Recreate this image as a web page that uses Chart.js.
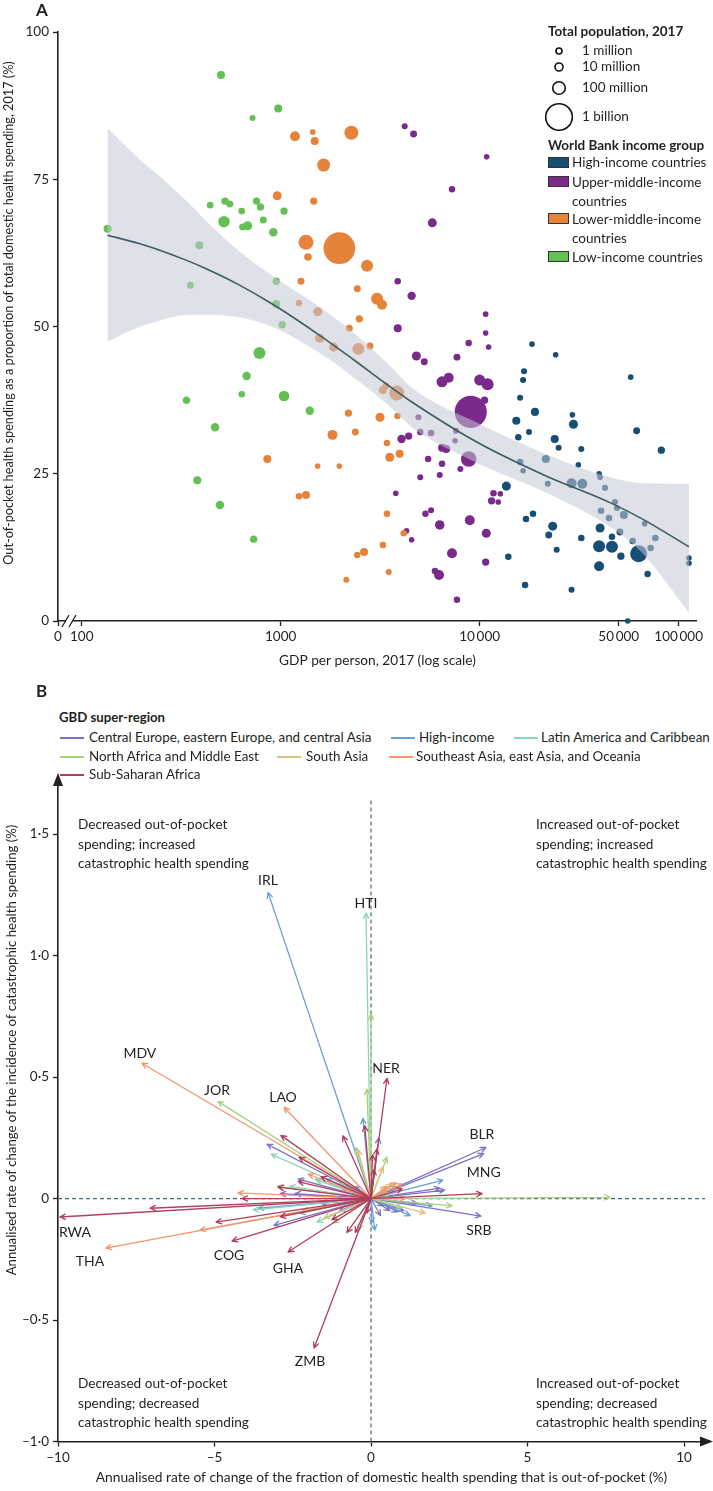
<!DOCTYPE html>
<html>
<head>
<meta charset="utf-8">
<script src="https://cdn.jsdelivr.net/npm/chart.js@4.4.0/dist/chart.umd.min.js"></script>
<style>
  body { margin: 0; background: #fff; }
  #page { position: relative; width: 713px; height: 1491px; overflow: hidden; font-family: Lato, sans-serif; color: #231f20; }
  canvas { position: absolute; left: 0; }
  #chartA { top: 0; }
  #chartB { top: 760px; }
  .t { position: absolute; white-space: nowrap; line-height: 1; transform: translateY(-50%); }
  .b { font-weight: bold; }
  .rot { position: absolute; white-space: nowrap; line-height: 1; transform: translate(-50%, -50%) rotate(-90deg); }
  .q { position: absolute; white-space: nowrap; font-size: 13.6px; line-height: 19.5px; }
  .sq { position: absolute; left: 548px; width: 19px; height: 9px; border: 1.2px solid #333; }
  .ln { position: absolute; height: 2px; width: 24px; }
</style>
</head>
<body>
<div id="page">
  <canvas id="chartA" width="713" height="672"></canvas>
  <canvas id="chartB" width="713" height="731"></canvas>

  <!-- panel A text -->
  <div class="t b" style="left:36px;top:9px;font-size:17px">A</div>
  <div class="rot" style="left:8px;top:313px;font-size:12.7px">Out-of-pocket health spending as a proportion of total domestic health spending, 2017 (%)</div>

  <div class="t b" style="left:548px;top:32px;font-size:13.5px">Total population, 2017</div>
  <svg style="position:absolute;left:540px;top:40px" width="40" height="100">
    <g fill="none" stroke="#111" stroke-width="1.6">
      <circle cx="19" cy="11" r="3"></circle>
      <circle cx="19" cy="27" r="4"></circle>
      <circle cx="19" cy="48" r="6.3"></circle>
      <circle cx="19" cy="77" r="13.3"></circle>
    </g>
  </svg>
  <div class="t" style="left:582px;top:51px;font-size:13.5px">1 million</div>
  <div class="t" style="left:582px;top:67px;font-size:13.5px">10 million</div>
  <div class="t" style="left:582px;top:88px;font-size:13.5px">100 million</div>
  <div class="t" style="left:582px;top:117px;font-size:13.5px">1 billion</div>

  <div class="t b" style="left:548px;top:146px;font-size:13.5px">World Bank income group</div>
  <div class="sq" style="top:157px;background:#174e73"></div>
  <div class="sq" style="top:176px;background:#7a2a8b"></div>
  <div class="sq" style="top:213px;background:#e5833a"></div>
  <div class="sq" style="top:251px;background:#64bf55"></div>
  <div class="t" style="left:572px;top:163px;font-size:13.5px">High-income countries</div>
  <div class="t" style="left:572px;top:183px;font-size:13.5px">Upper-middle-income</div>
  <div class="t" style="left:572px;top:202px;font-size:13.5px">countries</div>
  <div class="t" style="left:572px;top:220px;font-size:13.5px">Lower-middle-income</div>
  <div class="t" style="left:572px;top:239px;font-size:13.5px">countries</div>
  <div class="t" style="left:572px;top:258px;font-size:13.5px">Low-income countries</div>

  <!-- panel B text -->
  <div class="t b" style="left:36px;top:690px;font-size:17px">B</div>
  <div class="t b" style="left:59px;top:718px;font-size:13.2px">GBD super-region</div>
  <div id="legendB"></div>
  <div class="rot" style="left:12px;top:1050px;font-size:13.2px">Annualised rate of change of the incidence of catastrophic health spending (%)</div>

  <div class="q" style="left:78px;top:815px">Decreased out-of-pocket<br>spending; increased<br>catastrophic health spending</div>
  <div class="q" style="left:536px;top:815px">Increased out-of-pocket<br>spending; increased<br>catastrophic health spending</div>
  <div class="q" style="left:78px;top:1374px">Decreased out-of-pocket<br>spending; decreased<br>catastrophic health spending</div>
  <div class="q" style="left:536px;top:1374px">Increased out-of-pocket<br>spending; decreased<br>catastrophic health spending</div>
</div>

<script>
// ---------- Panel A data: GDP per person (US$), out-of-pocket share (%), population (millions) ----------
const xTicksA = [100, 1000, 10000, 50000, 100000];
const yTicksA = [0, 25, 50, 75, 100];

const lowGdp = [501, 972, 722, 442, 525, 555, 637, 756, 791, 1040, 519, 644, 682, 818, 918, 135, 390, 352, 950, 950, 1017, 782, 674, 637, 1040, 336, 1400, 468, 381, 495, 731];
const lowOop = [92.7, 87, 85.4, 70.6, 71.3, 70.8, 69.6, 71.3, 70.3, 69.6, 67.8, 66.9, 67.1, 68.1, 66.0, 66.6, 63.8, 57.0, 57.7, 53.8, 50.3, 45.5, 41.6, 38.5, 38.2, 37.5, 35.7, 32.9, 23.9, 19.7, 13.9];
const lowPop = [6, 6, 0.4, 1.3, 3, 2, 1.3, 3, 3, 3, 38, 2, 12, 2, 8, 6, 6, 2, 3, 6, 3, 47, 8, 1, 27, 3, 8, 8, 6, 8, 3];

const lmGdp = [1180, 1449, 1483, 2265, 1644, 961, 1466, 1340, 1972, 1371, 2716, 1265, 2428, 3050, 3230, 1236, 1535, 2485, 2213, 1570, 1845, 2455, 2810, 2190, 3155, 3265, 3380, 3830, 3865, 2372, 3420, 3535, 3960, 3420, 4150, 3265, 2625, 2425, 3490, 1822, 857, 1535, 1972, 1236, 1340, 2138];
const lmOop = [82.3, 83.0, 81.5, 82.9, 77.4, 72.2, 71.3, 64.3, 63.3, 61.8, 60.3, 57.7, 56.4, 54.7, 53.7, 54.0, 52.5, 51.3, 49.7, 48.0, 46.5, 46.2, 46.7, 35.3, 34.6, 39.2, 39.9, 38.7, 34.8, 32.1, 30.2, 27.8, 28.4, 18.2, 14.9, 12.9, 11.7, 11.2, 8.3, 31.6, 27.5, 26.3, 26.3, 21.2, 21.4, 7.0];
const lmPop = [20, 0.1, 6, 88, 66, 12, 3, 115, 1340, 4, 47, 2, 2, 47, 20, 0.8, 12, 3, 2, 12, 12, 47, 2, 3, 12, 6, 2, 115, 1, 2, 1, 12, 6, 1, 1, 1, 6, 1, 0.4, 20, 6, 0.1, 0.1, 1, 6, 0.4];

const umGdp = [4200, 4655, 10840, 7262, 5780, 3874, 4550, 10720, 3874, 10720, 8810, 11090, 4808, 5270, 7690, 6470, 6990, 10000, 10960, 10580, 9020, 4920, 5030, 5700, 7600, 7520, 4050, 4400, 6470, 6790, 8810, 5510, 6470, 8000, 5030, 6300, 3787, 11730, 12700, 11480, 12400, 5340, 5700, 6300, 8920, 10800, 4290, 4550, 7260, 10720, 5960, 6250, 7690];
const umOop = [84.0, 82.7, 78.8, 73.3, 67.6, 57.7, 55.2, 52.1, 49.7, 48.9, 47.2, 46.5, 45.0, 44.0, 44.8, 40.6, 41.3, 40.9, 40.2, 37.5, 35.5, 34.6, 32.1, 31.9, 32.3, 30.6, 30.9, 31.4, 29.4, 29.2, 27.5, 27.5, 26.7, 25.8, 24.4, 24.8, 21.7, 21.7, 21.6, 20.4, 20.2, 18.2, 18.8, 16.3, 17.1, 14.9, 15.3, 13.8, 11.5, 10.0, 8.5, 7.8, 3.6];
const umPop = [0.4, 2, 0.1, 1, 12, 1, 8, 0.1, 6, 0.1, 1, 0.1, 12, 2, 2, 32, 20, 32, 47, 3, 1390, 0.4, 1, 1, 0.4, 0.1, 8, 3, 6, 6, 130, 1, 1, 0.4, 0.4, 0.4, 0.1, 1, 0.1, 3, 0.1, 1, 0.4, 16, 20, 12, 0.1, 0.1, 20, 3, 1, 20, 1];

const highGdp = [18330, 24100, 16720, 16530, 57430, 15970, 18970, 15280, 29260, 29600, 17700, 61500, 15640, 23830, 24940, 32420, 81850, 15970, 21510, 16530, 31330, 39840, 40300, 22000, 28960, 32800, 13620, 42660, 47860, 48970, 53060, 40760, 44650, 18540, 17100, 67440, 23290, 22240, 40300, 50700, 58760, 76400, 32420, 46230, 39840, 46230, 62930, 72270, 24380, 51270, 13930, 112700, 112700, 39840, 69820, 16910, 28960, 55480];
const highOop = [47.0, 45.2, 42.4, 40.9, 41.4, 37.9, 35.5, 34.0, 35.0, 33.4, 32.1, 32.3, 31.2, 30.9, 29.4, 29.2, 29.0, 27.0, 27.5, 25.5, 26.5, 25.0, 24.4, 23.3, 23.4, 23.3, 22.9, 22.6, 20.2, 19.2, 18.0, 18.7, 17.5, 18.2, 17.3, 16.5, 16.1, 14.6, 15.8, 15.1, 13.6, 14.1, 14.1, 14.3, 12.7, 12.6, 11.4, 12.4, 12.1, 11.0, 10.9, 10.7, 9.8, 9.3, 8.0, 6.1, 5.3, 0];
const highPop = [0.1, 0.1, 0.4, 0.4, 0.1, 0.4, 6, 6, 0.1, 12, 0.4, 2, 1, 6, 0.4, 0.4, 3, 1, 6, 0.1, 0.1, 0.1, 0.1, 0.4, 20, 20, 12, 0.4, 0.4, 0.4, 6, 1, 1, 1, 1, 0.1, 12, 2, 12, 2, 1, 1, 1, 1, 47, 47, 180, 1, 0.4, 3, 1, 0.1, 0.1, 20, 1, 1, 0.4, 0.1];

// fitted curve with its uncertainty band
const fitGdp = [134.6, 194, 235, 344, 417, 608, 929, 1570, 2317, 3380, 4600, 9770, 21000, 45200, 65900, 112700];
const fitMid = [65.5, 64.1, 63.2, 61.1, 59.9, 57.2, 53.6, 48.5, 44.4, 40.3, 37.1, 30.3, 24.8, 20.1, 17.3, 12.6];
const fitHigh = [83.7, 78.5, 76.1, 71.0, 68.1, 63.0, 58.4, 53.3, 49.0, 44.0, 39.5, 33.6, 28.5, 24.4, 23.4, 23.3];
const fitLow = [47.4, 49.9, 50.8, 52.0, 52.0, 51.6, 49.8, 45.5, 41.4, 37.0, 32.8, 26.8, 22.0, 16.0, 11.5, 1.4];

// ---------- Panel B data: arrow tips [x change, y change, country code] ----------
const regionNames = ['Central Europe, eastern Europe, and central Asia', 'High-income', 'Latin America and Caribbean',
  'North Africa and Middle East', 'South Asia', 'Southeast Asia, east Asia, and Oceania', 'Sub-Saharan Africa'];
const ceeTips = [[3.67, 0.21, 'BLR'], [3.6, 0.185, 'MNG'], [3.51, -0.072, 'SRB'], [-3.32, 0.224], [-2.33, 0.08], [-2.43, 0.02], [2.36, 0.035], [2.2, 0.043], [0.6, -0.05], [0.85, -0.055], [1.05, -0.05], [1.47, -0.02], [0.25, 0.25], [-1.0, -0.05], [-2.9, 0.02], [0.4, -0.03], [-1.6, -0.02], [0.3, -0.07], [-3.1, -0.11]];
const hiTips = [[-3.29, 1.26, 'IRL'], [-0.26, 0.33], [-1.41, 0.08], [2.3, 0.076], [1.95, -0.03], [0.03, -0.1], [-2.27, -0.06], [0.12, -0.13], [-3.6, -0.04], [0.8, 0.05], [1.25, -0.07], [-0.5, 0.05], [0.5, 0.02]];
const lacTips = [[-0.16, 1.175, 'HTI'], [-3.19, 0.183], [-1.79, 0.08], [-3.77, -0.047], [-1.73, -0.097], [-0.4, -0.13], [-2.6, 0.05], [-1.0, 0.06], [1.0, -0.04], [-1.73, 0.076], [-0.7, 0.03], [0.5, 0.04]];
const nameTips = [[-4.89, 0.40, 'JOR'], [0.0, 0.76], [-0.13, 0.45], [7.64, 0.005], [-0.48, 0.21], [0.51, 0.17], [2.59, -0.03], [-1.2, -0.1], [0.6, 0.02], [-3.0, 0.05], [-2.2, -0.05]];
const saTips = [[-0.42, 0.2], [0.38, 0.13], [0.67, 0.06], [1.73, -0.06], [-1.5, -0.08]];
const seaTips = [[-7.32, 0.557, 'MDV'], [-2.78, 0.376, 'LAO'], [-8.47, -0.204, 'THA'], [-4.25, 0.023], [1.0, 0.06], [0.8, 0.065], [-5.46, -0.13], [-2.0, 0.1], [1.1, 0.0], [-0.9, 0.04], [0.5, 0.05]];
const ssaTips = [[0.51, 0.495, 'NER'], [-9.94, -0.076, 'RWA'], [-4.44, -0.175, 'COG'], [-2.65, -0.22, 'GHA'], [-1.82, -0.615, 'ZMB'], [-2.88, 0.26], [-2.3, 0.17], [-0.9, 0.258], [0.19, 0.205], [-2.97, 0.047], [-4.12, 0.0], [3.55, 0.02], [-7.06, -0.04], [-4.95, -0.097], [-2.9, -0.075], [-1.25, -0.087], [-0.5, -0.14], [-0.77, -0.14], [-0.13, -0.06], [0.05, 0.18], [0.1, 0.12], [-2.33, 0.07], [-1.6, 0.09], [1.0, 0.04], [-0.2, 0.3]];
const xTicksB = [-10, -5, 0, 5, 10];
const yTicksB = [-1, -0.5, 0, 0.5, 1, 1.5];

// ---------- styling ----------
const ink = '#231f20';
const incomeColors = { high: '#174e73', um: '#7a2a8b', lm: '#e5833a', low: '#64bf55' };
const regionColors = ['#7a72c4', '#6a9fd8', '#8cd5bd', '#a9d07e', '#d9c27a', '#f3956b', '#b03e5c'];
const labelOffset = { IRL: [0, -12], HTI: [0, -10], MDV: [-2, -10], JOR: [-1, -11], LAO: [-1, -10], NER: [-1, -10],
  BLR: [-4, -13], MNG: [0, 19], SRB: [-2, 14], RWA: [15, 15], THA: [-16, 13], COG: [-3, 14], GHA: [0, 16], ZMB: [-4, 14] };

Chart.defaults.font.family = 'Lato, sans-serif';
Chart.defaults.color = ink;

function popRadius(p) { return 2.5 + 0.75 * Math.pow(p, 0.4); }
function bubbles(xs, ys, pops) { return xs.map((x, i) => ({ x: x, y: ys[i], r: popRadius(pops[i]) })); }
function curve(ys) { return fitGdp.map((x, i) => ({ x: x, y: ys[i] })); }
function thin(v) { return v >= 10000 ? String(v).replace(/(\d)(\d{3})$/, '$1\u2009$2') : String(v); }

const xMinA = 76;

const breakMarks = {
  id: 'breakMarks',
  afterDraw(chart) {
    const { ctx, chartArea: a } = chart;
    ctx.save();
    ctx.fillStyle = '#fff';
    ctx.fillRect(66, a.bottom - 2, 6, 4);
    ctx.strokeStyle = ink; ctx.lineWidth = 1.3;
    ctx.beginPath();
    ctx.moveTo(62, a.bottom + 6); ctx.lineTo(69, a.bottom - 6);
    ctx.moveTo(69, a.bottom + 6); ctx.lineTo(76, a.bottom - 6);
    ctx.stroke();
    ctx.restore();
  }
};

const axisStyle = {
  grid: { drawOnChartArea: false, tickLength: 5, tickColor: ink, tickWidth: 1.3 },
  border: { color: ink, width: 1.6 }
};

new Chart(document.getElementById('chartA'), {
  type: 'bubble',
  data: {
    datasets: [
      { type: 'line', data: curve(fitLow), borderWidth: 0, pointRadius: 0, fill: false, order: 1, cubicInterpolationMode: 'monotone' },
      { type: 'line', data: curve(fitHigh), borderWidth: 0, pointRadius: 0, fill: '-1', backgroundColor: 'rgba(195,200,211,0.55)', order: 1, cubicInterpolationMode: 'monotone' },
      { type: 'line', data: curve(fitMid), borderColor: '#3d5b66', borderWidth: 1.6, pointRadius: 0, fill: false, order: 0, cubicInterpolationMode: 'monotone' },
      { data: bubbles(lowGdp, lowOop, lowPop), backgroundColor: incomeColors.low, borderWidth: 0, order: 2, clip: false },
      { data: bubbles(lmGdp, lmOop, lmPop), backgroundColor: incomeColors.lm, borderWidth: 0, order: 2, clip: false },
      { data: bubbles(umGdp, umOop, umPop), backgroundColor: incomeColors.um, borderWidth: 0, order: 2, clip: false },
      { data: bubbles(highGdp, highOop, highPop), backgroundColor: incomeColors.high, borderWidth: 0, order: 2, clip: false }
    ]
  },
  options: {
    responsive: false,
    animation: false,
    layout: { padding: { top: 32, right: 8, left: 0, bottom: 0 } },
    plugins: { legend: { display: false }, tooltip: { enabled: false } },
    scales: {
      x: {
        type: 'logarithmic', min: xMinA, max: 123600,
        afterFit: s => { s.height = 51; },
        afterBuildTicks: s => { s.ticks = [xMinA].concat(xTicksA).map(v => ({ value: v })); },
        ticks: { autoSkip: false, maxRotation: 0, padding: 3, font: { size: 13.5 }, color: ink,
          callback: v => v === xMinA ? '0' : thin(v) },
        title: { display: true, text: 'GDP per person, 2017 (log scale)', font: { size: 13.7 }, color: ink, padding: { top: 0, bottom: 3 } },
        ...axisStyle
      },
      y: {
        min: 0, max: 100,
        afterFit: s => { s.width = 58; },
        afterBuildTicks: s => { s.ticks = yTicksA.map(v => ({ value: v })); },
        ticks: { padding: 4, font: { size: 13.5 }, color: ink },
        ...axisStyle
      }
    }
  },
  plugins: [breakMarks]
});

// ---------- Panel B ----------
const allTips = [ceeTips, hiTips, lacTips, nameTips, saTips, seaTips, ssaTips];

// legend
const legendPos = [[60, 89, 738], [391, 419, 738], [514, 541, 738], [60, 89, 757], [277, 306, 757], [389, 416, 757], [60, 89, 775]];
const legendB = document.getElementById('legendB');
regionNames.forEach((name, i) => {
  const [lx, tx, ty] = legendPos[i];
  legendB.insertAdjacentHTML('beforeend',
    `<div class="ln" style="left:${lx}px;top:${ty - 1}px;background:${regionColors[i]}"></div>` +
    `<div class="t" style="left:${tx}px;top:${ty}px;font-size:13.4px">${name}</div>`);
});

function drawArrow(ctx, x0, y0, x1, y1) {
  const ang = Math.atan2(y1 - y0, x1 - x0), h = 6, s = 0.45;
  ctx.beginPath();
  ctx.moveTo(x0, y0); ctx.lineTo(x1, y1);
  ctx.moveTo(x1 - h * Math.cos(ang - s), y1 - h * Math.sin(ang - s));
  ctx.lineTo(x1, y1);
  ctx.lineTo(x1 - h * Math.cos(ang + s), y1 - h * Math.sin(ang + s));
  ctx.stroke();
}

const arrowPlugin = {
  id: 'arrows',
  beforeDatasetsDraw(chart) {
    const { ctx, chartArea: a, scales: { x, y } } = chart;
    const x0 = x.getPixelForValue(0), y0 = y.getPixelForValue(0);
    ctx.save();
    ctx.strokeStyle = '#47646e'; ctx.lineWidth = 1.2; ctx.setLineDash([4, 3]);
    ctx.beginPath(); ctx.moveTo(x0, a.bottom); ctx.lineTo(x0, y.getPixelForValue(1.644)); ctx.stroke();
    ctx.beginPath(); ctx.moveTo(a.left, y0); ctx.lineTo(a.right, y0); ctx.stroke();
    ctx.restore();
  },
  afterDatasetsDraw(chart) {
    const { ctx, scales: { x, y } } = chart;
    const x0 = x.getPixelForValue(0), y0 = y.getPixelForValue(0);
    ctx.save();
    ctx.lineWidth = 1.3; ctx.lineCap = 'round'; ctx.lineJoin = 'round';
    chart.data.datasets.forEach((ds, i) => {
      ctx.strokeStyle = regionColors[i];
      chart.getDatasetMeta(i).data.forEach(pt => drawArrow(ctx, x0, y0, pt.x, pt.y));
    });
    ctx.fillStyle = ink; ctx.font = '14px Lato, sans-serif';
    ctx.textAlign = 'center'; ctx.textBaseline = 'middle';
    chart.data.datasets.forEach((ds, i) => {
      chart.getDatasetMeta(i).data.forEach((pt, j) => {
        const code = ds.data[j].code;
        if (!code) return;
        const off = labelOffset[code] || [0, -11];
        ctx.fillText(code, pt.x + off[0], pt.y + off[1]);
      });
    });
    ctx.restore();
  },
  afterDraw(chart) {
    const { ctx, chartArea: a } = chart;
    ctx.save();
    ctx.fillStyle = ink;
    ctx.beginPath();
    ctx.moveTo(a.left, a.top - 4); ctx.lineTo(a.left - 5, a.top + 9); ctx.lineTo(a.left + 5, a.top + 9);
    ctx.closePath(); ctx.fill();
    ctx.beginPath();
    ctx.moveTo(a.right + 8, a.bottom); ctx.lineTo(a.right - 5, a.bottom - 5); ctx.lineTo(a.right - 5, a.bottom + 5);
    ctx.closePath(); ctx.fill();
    ctx.restore();
  }
};

new Chart(document.getElementById('chartB'), {
  type: 'scatter',
  data: {
    datasets: allTips.map((tips, i) => ({
      label: regionNames[i],
      data: tips.map(t => ({ x: t[0], y: t[1], code: t[2] || '' })),
      pointRadius: 0,
      clip: false
    }))
  },
  options: {
    responsive: false,
    animation: false,
    layout: { padding: { top: 17, right: 8, left: 0, bottom: 0 } },
    plugins: { legend: { display: false }, tooltip: { enabled: false } },
    scales: {
      x: {
        min: -10, max: 10.67,
        afterFit: s => { s.height = 49.5; },
        afterBuildTicks: s => { s.ticks = xTicksB.map(v => ({ value: v })); },
        ticks: { padding: 3, font: { size: 13.5 }, color: ink, callback: v => (v < 0 ? '\u2013' : '') + Math.abs(v) },
        title: { display: true, text: 'Annualised rate of change of the fraction of domestic health spending that is out-of-pocket (%)',
          font: { size: 13.8 }, color: ink, padding: { top: 0, bottom: 5 } },
        ...axisStyle
      },
      y: {
        min: -1, max: 1.735,
        afterFit: s => { s.width = 58; },
        afterBuildTicks: s => { s.ticks = yTicksB.map(v => ({ value: v })); },
        ticks: { padding: 4, font: { size: 13.5 }, color: ink,
          callback: v => v === 0 ? '0' : (v < 0 ? '\u2013' : '') + Math.abs(v).toFixed(1).replace('.', '\u00b7') },
        ...axisStyle
      }
    }
  },
  plugins: [arrowPlugin]
});
</script>
</body>
</html>
